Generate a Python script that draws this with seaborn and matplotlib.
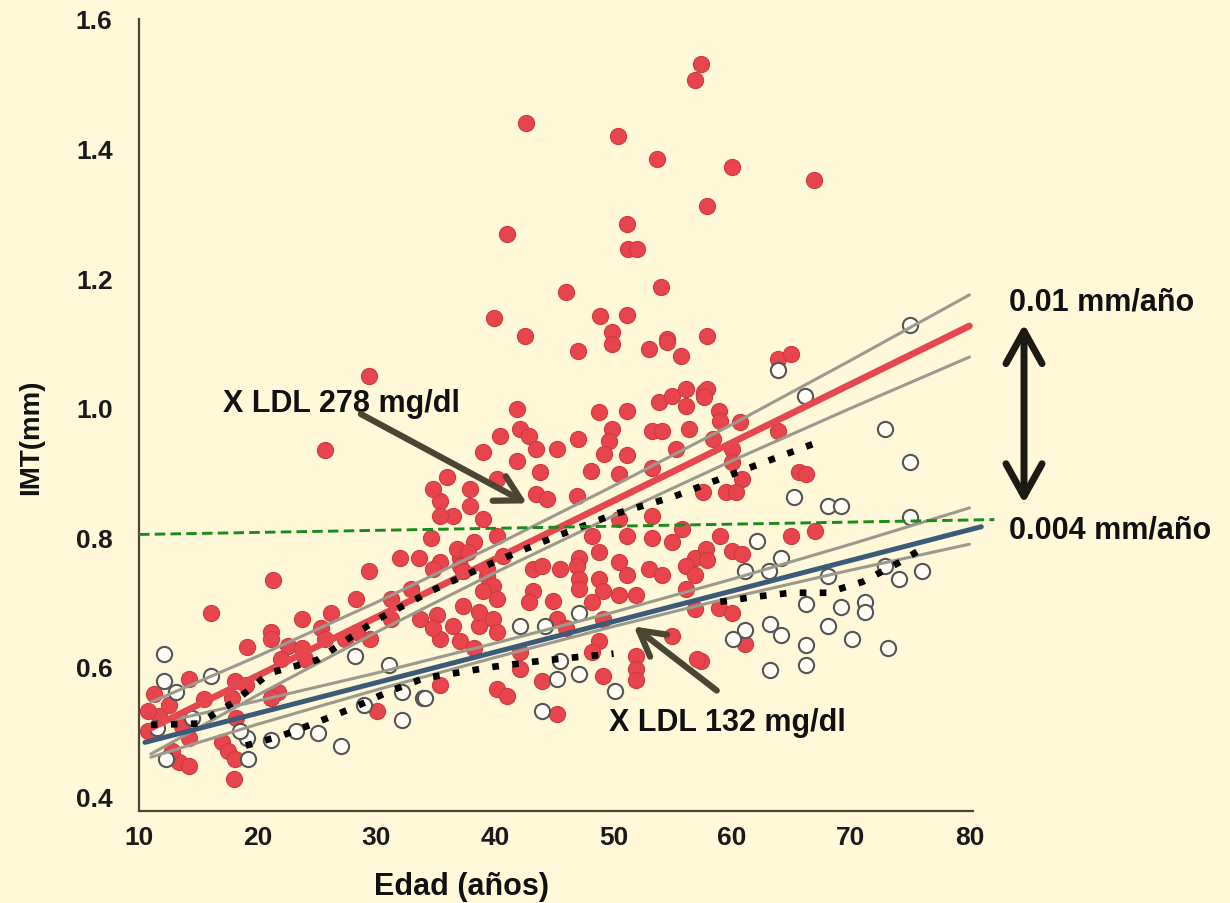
import pandas as pd
import matplotlib
matplotlib.use("Agg")
import matplotlib.pyplot as plt
from matplotlib.ticker import FormatStrFormatter
import seaborn as sns

# ---- data: (edad, IMT) ----
# high LDL group (filled red)
high_ldl_points = [
    (57.4, 1.53), (56.9, 1.506), (42.6, 1.44), (50.4, 1.42), (53.7, 1.384), (60.0, 1.372),
    (66.9, 1.352), (57.9, 1.311), (51.1, 1.284), (41.0, 1.268), (51.2, 1.245), (52.0, 1.245),
    (54.0, 1.186), (46.0, 1.179), (39.9, 1.139), (48.9, 1.142), (51.1, 1.143), (42.5, 1.11),
    (49.9, 1.117), (54.5, 1.106), (57.9, 1.11),
    (47.0, 1.088), (49.9, 1.098), (53.0, 1.091), (54.5, 1.101), (55.7, 1.08),
    (41.9, 0.998), (48.8, 0.993), (53.8, 1.009), (54.9, 1.018), (56.1, 1.029), (56.1, 1.003),
    (57.6, 1.024), (40.4, 0.956), (42.1, 0.967), (42.9, 0.956), (47.0, 0.952), (49.9, 0.967),
    (49.6, 0.949), (53.2, 0.964), (54.1, 0.964), (56.4, 0.967), (39.0, 0.932), (43.5, 0.936),
    (45.2, 0.936), (49.2, 0.929), (51.1, 0.926), (55.3, 0.936), (41.9, 0.918), (43.8, 0.901),
    (48.1, 0.902), (50.5, 0.898), (53.2, 0.906), (40.2, 0.89), (36.0, 0.893), (37.9, 0.875),
    (43.5, 0.867), (44.4, 0.859), (46.9, 0.864), (35.4, 0.855), (37.9, 0.848), (36.5, 0.833),
    (39.0, 0.828), (50.5, 0.828), (53.2, 0.833), (55.8, 0.813), (34.6, 0.798), (38.2, 0.793),
    (40.2, 0.802), (48.2, 0.802), (51.1, 0.802), (53.2, 0.798), (54.9, 0.793), (48.8, 0.777),
    (50.5, 0.762), (47.1, 0.767), (56.9, 0.767), (37.1, 0.767), (40.7, 0.771),
    (57.9, 1.029), (57.6, 1.017), (58.9, 0.995), (59.0, 0.98), (60.7, 0.978), (63.9, 0.964),
    (60.0, 0.936), (60.0, 0.916), (65.6, 0.90), (66.2, 0.898), (60.8, 0.89), (59.5, 0.87),
    (60.3, 0.87), (57.5, 0.87), (63.9, 1.075), (65.0, 1.083), (58.4, 0.952), (51.1, 0.995),
    (29.4, 1.048), (25.7, 0.935), (34.8, 0.875), (35.4, 0.833), (33.6, 0.767), (29.4, 0.748),
    (36.8, 0.782), (37.7, 0.777), (35.4, 0.762), (37.1, 0.756), (39.3, 0.74), (35.1, 0.679),
    (38.7, 0.663), (35.4, 0.643),
    (59.0, 0.802), (57.8, 0.782), (57.9, 0.764), (60.0, 0.779), (60.8, 0.774), (65.0, 0.802),
    (67.0, 0.81), (58.9, 0.69), (60.0, 0.682), (61.1, 0.635), (57.4, 0.609),
    (34.8, 0.751), (37.3, 0.747), (39.3, 0.751), (39.8, 0.725), (39.0, 0.716), (40.2, 0.705),
    (37.3, 0.694), (38.7, 0.685), (39.8, 0.674), (34.8, 0.659), (36.5, 0.663), (40.2, 0.654),
    (37.1, 0.639), (38.2, 0.628), (35.4, 0.571), (40.2, 0.566), (41.0, 0.555), (42.1, 0.597),
    (44.0, 0.577), (45.2, 0.527), (43.2, 0.751), (44.0, 0.756), (45.5, 0.751), (46.9, 0.756),
    (43.2, 0.716), (42.9, 0.70), (44.9, 0.702), (47.1, 0.736), (47.1, 0.72), (48.8, 0.736),
    (49.1, 0.716), (50.5, 0.71), (51.1, 0.741), (53.0, 0.751), (54.1, 0.741), (56.1, 0.756),
    (56.9, 0.741), (51.9, 0.71), (48.2, 0.70), (56.1, 0.72), (45.2, 0.674), (46.0, 0.659),
    (49.1, 0.674), (48.8, 0.639), (48.2, 0.623), (49.1, 0.585), (51.9, 0.617), (51.9, 0.597),
    (51.9, 0.579), (54.9, 0.648), (57.0, 0.612), (56.9, 0.689), (42.1, 0.623),
    (21.3, 0.734), (16.1, 0.682), (19.1, 0.631), (21.1, 0.654), (21.1, 0.643), (22.6, 0.632),
    (23.7, 0.628), (25.3, 0.659), (22.0, 0.612), (14.2, 0.581), (11.3, 0.558), (18.1, 0.577),
    (19.0, 0.571), (21.7, 0.561), (21.1, 0.551), (11.7, 0.524), (13.6, 0.509), (14.2, 0.489),
    (13.4, 0.453), (14.2, 0.447), (17.0, 0.484), (17.5, 0.469), (18.1, 0.458), (18.0, 0.427),
    (10.8, 0.50), (10.8, 0.531), (30.1, 0.531), (29.5, 0.643), (25.7, 0.643), (24.0, 0.612),
    (28.4, 0.654), (31.2, 0.674),
    (32.0, 0.767), (31.2, 0.705), (32.9, 0.72), (33.7, 0.674), (17.8, 0.551), (18.2, 0.52),
    (23.7, 0.674), (26.2, 0.682), (27.4, 0.643), (28.3, 0.705), (12.5, 0.54), (15.5, 0.55),
    (12.8, 0.47),
]

# low LDL group (open circles)
low_ldl_points = [
    (12.1, 0.62), (12.1, 0.578), (13.1, 0.561), (16.1, 0.586), (12.3, 0.458), (19.1, 0.489),
    (19.2, 0.458), (21.1, 0.486), (23.2, 0.501), (25.1, 0.497), (27.0, 0.478), (28.2, 0.617),
    (31.1, 0.602), (32.2, 0.517), (32.2, 0.561), (33.9, 0.551), (29.0, 0.54), (14.5, 0.52),
    (11.5, 0.505), (18.5, 0.50),
    (42.1, 0.663), (44.2, 0.663), (47.1, 0.682), (34.1, 0.551), (45.2, 0.581), (47.1, 0.589),
    (50.1, 0.563), (44.0, 0.531), (45.5, 0.608),
    (62.1, 0.794), (64.1, 0.767), (61.1, 0.747), (63.1, 0.747), (68.1, 0.74), (74.1, 0.736),
    (76.0, 0.747), (72.9, 0.756), (66.2, 0.697), (69.2, 0.692), (71.2, 0.70), (71.2, 0.685),
    (63.2, 0.666), (61.1, 0.656), (64.1, 0.649), (60.1, 0.642), (68.1, 0.662), (70.1, 0.643),
    (66.2, 0.634), (73.1, 0.628), (63.2, 0.595), (66.2, 0.602),
    (63.9, 1.058), (66.1, 1.018), (75.0, 1.128), (72.9, 0.967), (75.0, 0.916), (65.2, 0.862),
    (68.1, 0.848), (69.2, 0.848), (75.0, 0.831),
]

# regression lines and their bands
fit_x_high = [11, 80]
fit_y_high = [0.505, 1.126]
fit_x_low = [10.5, 81]
fit_y_low = [0.483, 0.816]

band_x = [11, 20, 30, 40, 50, 60, 70, 80]
high_upper = [0.545, 0.616, 0.699, 0.787, 0.879, 0.974, 1.073, 1.174]
high_lower = [0.465, 0.556, 0.653, 0.745, 0.833, 0.918, 0.999, 1.078]
low_upper = [0.510, 0.547, 0.590, 0.636, 0.684, 0.735, 0.789, 0.845]
low_lower = [0.460, 0.511, 0.564, 0.614, 0.662, 0.707, 0.749, 0.789]

# smoothed (dotted) curves
smooth_x_high = [11, 15, 18, 21, 25, 30, 35, 40, 45, 50, 55, 60, 67]
smooth_y_high = [0.51, 0.512, 0.545, 0.59, 0.61, 0.672, 0.72, 0.762, 0.80, 0.835, 0.862, 0.897, 0.945]
smooth_x_low_a = [19, 22, 25, 28, 31, 34, 37, 40, 43, 46, 50]
smooth_y_low_a = [0.478, 0.493, 0.514, 0.536, 0.561, 0.582, 0.591, 0.60, 0.607, 0.613, 0.62]
smooth_x_low_b = [59, 62, 65, 68, 71, 74, 76]
smooth_y_low_b = [0.70, 0.708, 0.714, 0.714, 0.731, 0.76, 0.782]

# reference line
ref_x = [10, 82.1]
ref_y = [0.804, 0.827]

df_high = pd.DataFrame(high_ldl_points, columns=["edad", "imt"])
df_low = pd.DataFrame(low_ldl_points, columns=["edad", "imt"])

bg = "#fff9da"
sns.set_style("ticks")
plt.rcParams["font.family"] = ["Liberation Sans", "DejaVu Sans"]
plt.rcParams["font.weight"] = "bold"

fig = plt.figure(figsize=(12.3, 9.04), dpi=100, facecolor=bg)
ax = fig.add_axes([139 / 1230, 1 - 812 / 904, (973 - 139) / 1230, (812 - 20) / 904])
ax.set_facecolor(bg)

# Scatter
sns.scatterplot(data=df_high, x="edad", y="imt", s=135, color="#e8444c",
                edgecolor="#cf3a42", linewidth=0.8, ax=ax, legend=False, zorder=2)
sns.scatterplot(data=df_low, x="edad", y="imt", s=120, color="#fffdf4",
                edgecolor="#555555", linewidth=1.5, ax=ax, legend=False, zorder=3)

# Bands
for ys in [high_upper, high_lower, low_upper, low_lower]:
    sns.lineplot(x=band_x, y=ys, color="#9b9a8c", linewidth=2.2, ax=ax, zorder=4)

# Fit lines
sns.lineplot(x=fit_x_high, y=fit_y_high, color="#e5474f", linewidth=4.8, ax=ax, zorder=5)
sns.lineplot(x=fit_x_low, y=fit_y_low, color="#3b5b79", linewidth=3.6, ax=ax, zorder=5,
             clip_on=False)

# Dotted smoothers
dot = dict(color="black", linewidth=4.8, linestyle=(0, (1, 2.0)), ax=ax, zorder=6, sort=False)
sns.lineplot(x=smooth_x_high, y=smooth_y_high, **dot)
sns.lineplot(x=smooth_x_low_a, y=smooth_y_low_a, **dot)
sns.lineplot(x=smooth_x_low_b, y=smooth_y_low_b, **dot)

# Green reference
sns.lineplot(x=ref_x, y=ref_y, color="#1a8a1a", linewidth=2.1, linestyle=(0, (3.6, 1.8)),
             ax=ax, zorder=7, clip_on=False)

# Axes
ax.set_xlim(10, 80.3)
ax.set_ylim(0.377, 1.6)
ax.set_xticks([10, 20, 30, 40, 50, 60, 70, 80])
ax.set_yticks([0.4, 0.6, 0.8, 1.0, 1.2, 1.4, 1.6])
ax.yaxis.set_major_formatter(FormatStrFormatter("%.1f"))
ax.tick_params(axis="x", length=0, labelsize=19, pad=10, colors="#1a1a1a")
ax.tick_params(axis="y", length=0, labelsize=19, pad=19, colors="#1a1a1a")
for s in ["top", "right"]:
    ax.spines[s].set_visible(False)
for s in ["left", "bottom"]:
    ax.spines[s].set_color("#4b4636")
    ax.spines[s].set_linewidth(1.6)

ax.set_xlabel("Edad (años)", fontsize=22, fontweight="bold", color="#111111")
ax.set_ylabel("IMT(mm)", fontsize=20, fontweight="bold", color="#111111")
ax.xaxis.set_label_coords(0.387, -0.076)
ax.yaxis.set_label_coords(-0.114, 0.473)

# Annotations
ax.text(17.1, 1.007, "X LDL 278 mg/dl", fontsize=22, fontweight="bold", color="#111111",
        ha="left", va="center", zorder=8)
ax.annotate("", xy=(42.7, 0.852), xytext=(28.7, 0.990),
            arrowprops=dict(arrowstyle="->,head_length=0.9,head_width=0.5", lw=4.5,
                            color="#4b4632", mutation_scale=20, shrinkA=0, shrinkB=0),
            zorder=8)
ax.text(49.6, 0.515, "X LDL 132 mg/dl", fontsize=22, fontweight="bold", color="#111111",
        ha="left", va="center", zorder=8)
ax.annotate("", xy=(51.7, 0.662), xytext=(58.7, 0.563),
            arrowprops=dict(arrowstyle="->,head_length=0.9,head_width=0.5", lw=4.5,
                            color="#4b4632", mutation_scale=20, shrinkA=0, shrinkB=0),
            zorder=8)

ax.annotate("", xy=(84.6, 1.129), xytext=(84.6, 0.852), annotation_clip=False,
            arrowprops=dict(arrowstyle="<->,head_length=0.9,head_width=0.5", lw=5,
                            color="#1c1a12", mutation_scale=26, shrinkA=0, shrinkB=0))
ax.text(83.3, 1.163, "0.01 mm/año", fontsize=22, fontweight="bold", color="#111111",
        ha="left", va="center")
ax.text(83.3, 0.811, "0.004 mm/año", fontsize=22, fontweight="bold", color="#111111",
        ha="left", va="center")

fig.savefig("out.png", dpi=100, facecolor=bg)
